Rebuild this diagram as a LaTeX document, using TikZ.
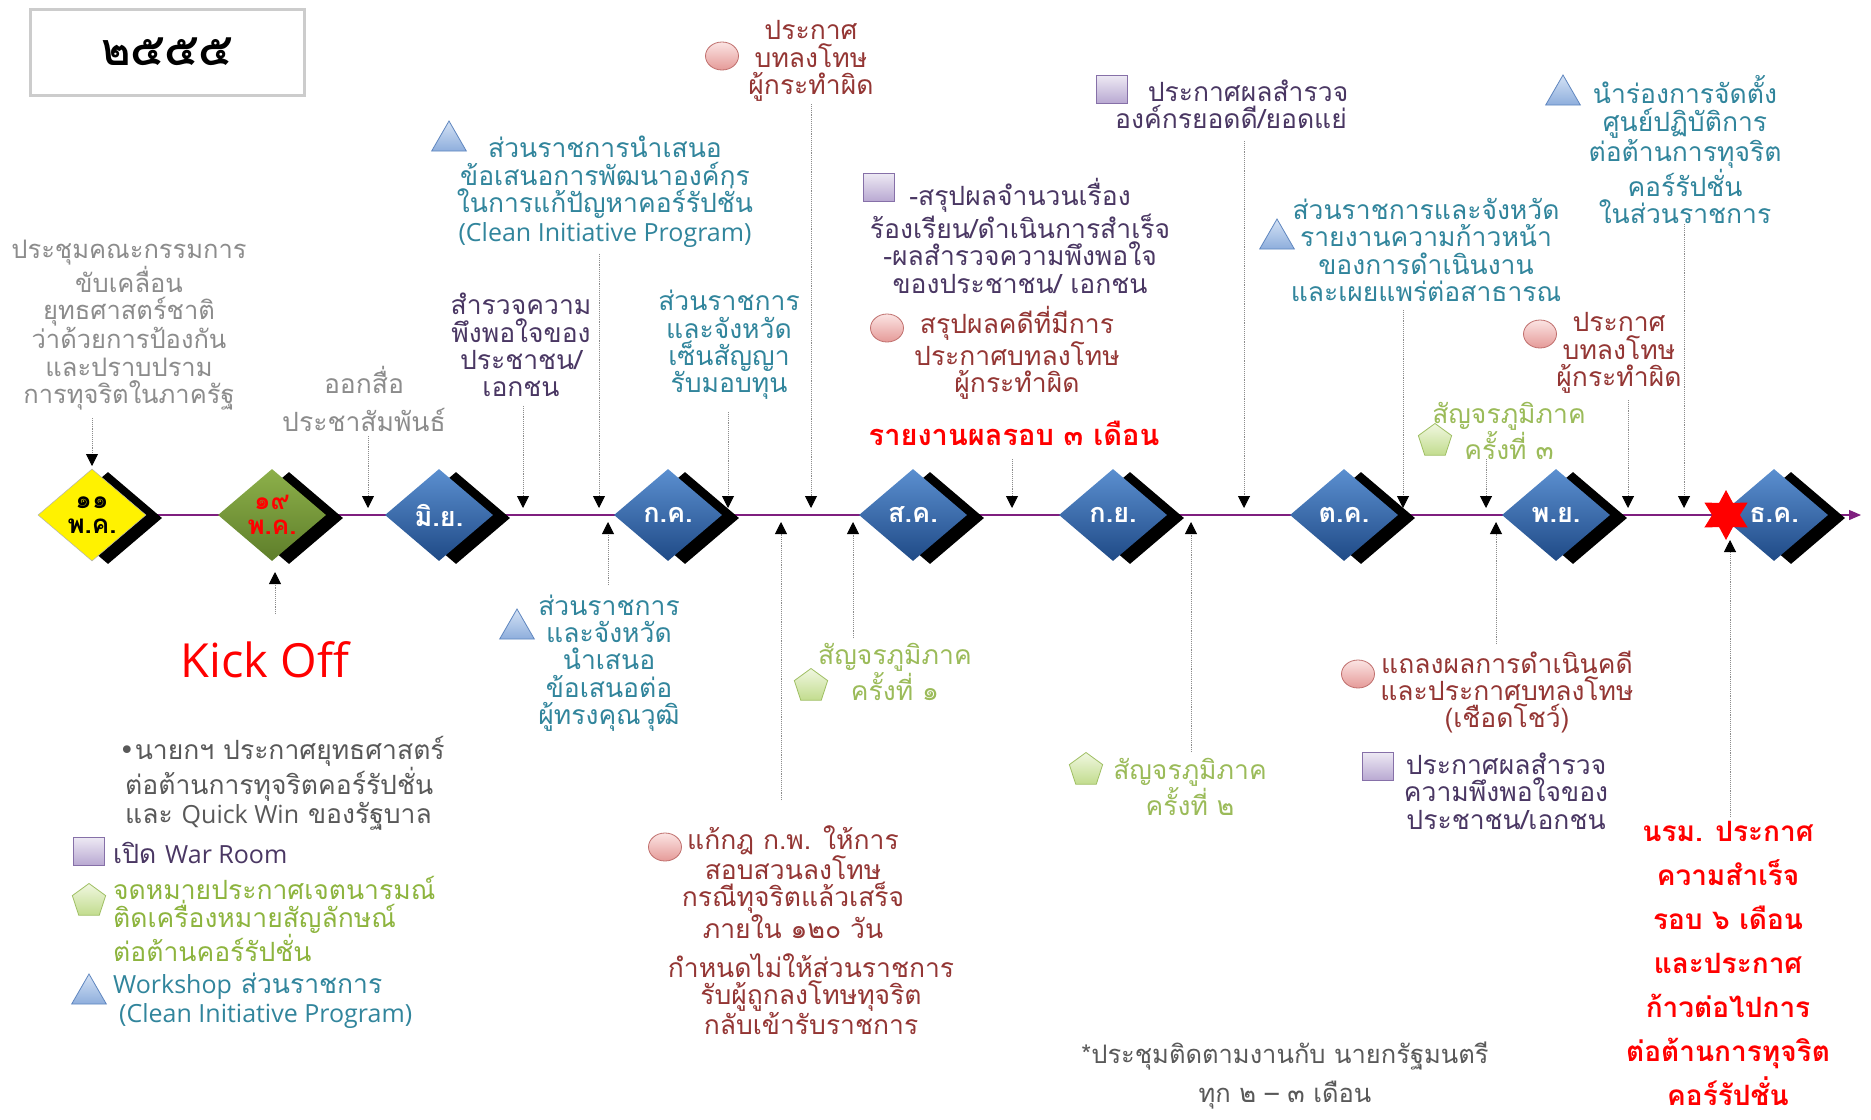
\documentclass[tikz,border=0pt]{standalone}
\usepackage{fontspec}
\setmainfont[Script=Thai]{Loma}
\newfontfamily\symfnt{DejaVu Sans}
\newfontfamily\latf{Open Sans}
\usetikzlibrary{shapes.geometric,arrows.meta}
\definecolor{cTeal}{HTML}{31859C}
\definecolor{cDRed}{HTML}{943634}
\definecolor{cPurp}{HTML}{4A3763}
\definecolor{cOlive}{HTML}{9BBB59}
\definecolor{cLeg}{HTML}{8DB43E}
\definecolor{cGrayT}{HTML}{8C8C8C}
\definecolor{cDGray}{HTML}{595959}
\definecolor{cAxis}{HTML}{7F1F7F}
\definecolor{cBlueL}{HTML}{5B8FD0}
\definecolor{cBlueD}{HTML}{1F4A86}
\definecolor{cGreenL}{HTML}{8DB04A}
\definecolor{cGreenD}{HTML}{5E7E2A}
\definecolor{cRed}{HTML}{FF0000}
\definecolor{cCirL}{HTML}{FBE4E3}
\definecolor{cCirD}{HTML}{E59A98}
\definecolor{cCirE}{HTML}{C0706E}
\definecolor{cTriL}{HTML}{D4E2F5}
\definecolor{cTriD}{HTML}{8EAEDC}
\definecolor{cTriE}{HTML}{5F86BF}
\definecolor{cSqL}{HTML}{EEEAF4}
\definecolor{cSqD}{HTML}{B9A9D2}
\definecolor{cSqE}{HTML}{8670A8}
\definecolor{cPeL}{HTML}{F0F7E0}
\definecolor{cPeD}{HTML}{C2DC8E}
\definecolor{cPeE}{HTML}{9FBF63}
\begin{document}
\begin{tikzpicture}[x=1pt,y=-1pt,
  lbl/.style={align=center, inner sep=0pt, font=\fontsize{26.5}{27.4}\selectfont},
  diam/.style={shape=diamond, minimum width=108pt, minimum height=92pt, inner sep=0pt, draw=none},
  dshadow/.style={diam, fill=black},
  bluediam/.style={diam, top color=cBlueL, bottom color=cBlueD, text=white, font=\bfseries\fontsize{27}{28}\selectfont},
  conn/.style={draw=cGrayT, densely dotted, line width=0.9pt, -{Triangle[width=12pt,length=12pt,color=black]}},
  mcirc/.style={ellipse, minimum width=33pt, minimum height=28pt, inner sep=0pt, top color=cCirL, bottom color=cCirD, draw=cCirE, line width=0.8pt},
  mtri/.style={regular polygon, regular polygon sides=3, minimum size=40pt, inner sep=0pt, top color=cTriL, bottom color=cTriD, draw=cTriE, line width=0.8pt},
  msq/.style={rectangle, minimum width=31pt, minimum height=28pt, inner sep=0pt, top color=cSqL, bottom color=cSqD, draw=cSqE, line width=0.8pt},
  mpent/.style={regular polygon, regular polygon sides=5, minimum size=35pt, inner sep=0pt, top color=cPeL, bottom color=cPeD, draw=cPeE, line width=0.8pt}
]
\useasboundingbox (0,0) rectangle (1871,1119);
\fill[white] (0,0) rectangle (1871,1119);

% title
\node[draw=gray!40, line width=3pt, minimum width=274pt, minimum height=86pt, inner sep=0pt, font=\bfseries\fontsize{45}{48}\selectfont] (title) at (167,52) {๒๕๕๕};

% axis
\coordinate (axstart) at (92,515);
\coordinate (axend) at (1861,515);
\draw[cAxis, line width=1.3pt, -{Triangle[width=10pt,length=12pt]}] (axstart) -- (axend);

% diamonds
\node[dshadow] (d1s) at (108,518) {};
\node[diam, fill=yellow, draw=gray!60, line width=0.5pt, text=black, align=center, font=\bfseries\fontsize{26}{25}\selectfont] (d1) at (92,515) {๑๑\\พ.ค.};
\node[dshadow] (d2s) at (289,518) {};
\node[diam, top color=cGreenL, bottom color=cGreenD, text=cRed, align=center, font=\bfseries\fontsize{26}{25}\selectfont] (d2) at (272,515) {๑๙\\พ.ค.};
\node[dshadow] (d3s) at (456,518) {};
\node[bluediam] (d3) at (439,515) {มิ.ย.};
\node[dshadow] (d4s) at (685,518) {};
\node[bluediam] (d4) at (668,515) {ก.ค.};
\node[dshadow] (d5s) at (930,518) {};
\node[bluediam] (d5) at (913,515) {ส.ค.};
\node[dshadow] (d6s) at (1130,518) {};
\node[bluediam] (d6) at (1113,515) {ก.ย.};
\node[dshadow] (d7s) at (1361,518) {};
\node[bluediam] (d7) at (1344,515) {ต.ค.};
\node[dshadow] (d8s) at (1573,518) {};
\node[bluediam] (d8) at (1556,515) {พ.ย.};
\node[dshadow] (d9s) at (1791,518) {};
\node[bluediam] (d9) at (1774,515) {ธ.ค.};
\node[star, star points=6, star point ratio=1.8, minimum size=50pt, inner sep=0pt, fill=red] (star) at (1726,515) {};

% top labels
\node[lbl, text=cDRed] (tPun) at (811,61) {ประกาศ\\บทลงโทษ\\ผู้กระทำผิด};
\node[mcirc] (mPun) at (722,56) {};
\node[lbl, text=cTeal] (tCIP) at (605,192) {ส่วนราชการนำเสนอ\\ข้อเสนอการพัฒนาองค์กร\\ในการแก้ปัญหาคอร์รัปชั่น\\[2pt]{\latf\fontsize{25}{26}\selectfont(Clean Initiative Program)}};
\node[mtri] (mCIP) at (449,141) {};
\node[lbl, text=cGrayT, font=\fontsize{25.5}{27.4}\selectfont] (tMeet) at (129,325) {ประชุมคณะกรรมการ\\ขับเคลื่อน\\ยุทธศาสตร์ชาติ\\ว่าด้วยการป้องกัน\\และปราบปราม\\การทุจริตในภาครัฐ};
\node[lbl, text=cGrayT, font=\fontsize{26.5}{38}\selectfont] (tPR) at (364,399) {ออกสื่อ\\ประชาสัมพันธ์};
\node[lbl, text=cPurp] (tSurv) at (521,345) {สำรวจความ\\พึงพอใจของ\\ประชาชน/\\เอกชน};
\node[lbl, text=cTeal] (tSign) at (729,345) {ส่วนราชการ\\และจังหวัด\\เซ็นสัญญา\\รับมอบทุน};
\node[lbl, text=cPurp] (tSum) at (1020,236) {-สรุปผลจำนวนเรื่อง\\ร้องเรียน/ดำเนินการสำเร็จ\\-ผลสำรวจความพึงพอใจ\\ของประชาชน/ เอกชน};
\node[msq] (mSum) at (879,187) {};
\node[lbl, text=cDRed] (tCase) at (1017,353) {สรุปผลคดีที่มีการ\\ประกาศบทลงโทษ\\ผู้กระทำผิด};
\node[mcirc] (mCase) at (887,328) {};
\node[lbl, text=cRed, font=\bfseries\fontsize{29}{30}\selectfont] (t3m) at (1014,433) {รายงานผลรอบ ๓ เดือน};
\node[lbl, text=cPurp] (tBest) at (1231,104) {\hspace*{34pt}ประกาศผลสำรวจ\\องค์กรยอดดี/ยอดแย่};
\node[msq] (mBest) at (1112,89) {};
\node[lbl, text=cTeal] (tProg) at (1426,250) {ส่วนราชการและจังหวัด\\รายงานความก้าวหน้า\\ของการดำเนินงาน\\และเผยแพร่ต่อสาธารณ};
\node[mtri] (mProg) at (1277,239) {};
\node[lbl, text=cTeal] (tPilot) at (1685,150) {นำร่องการจัดตั้ง\\ศูนย์ปฏิบัติการ\\ต่อต้านการทุจริต\\คอร์รัปชั่น\\ในส่วนราชการ};
\node[mtri] (mPilot) at (1563,95) {};
\node[lbl, text=cDRed] (tPun2) at (1619,353) {ประกาศ\\บทลงโทษ\\ผู้กระทำผิด};
\node[mcirc] (mPun2) at (1540,334) {};
\node[lbl, text=cOlive] (tTour3) at (1509,431) {สัญจรภูมิภาค\\ครั้งที่ ๓};
\node[mpent] (mTour3) at (1435,441) {};

% bottom labels
\node[lbl, text=cRed, font=\latf\fontsize{47}{49}\selectfont] (tKick) at (265,660) {Kick Off};
\node[lbl, text=cTeal] (tExp) at (609,663) {ส่วนราชการ\\และจังหวัด\\นำเสนอ\\ข้อเสนอต่อ\\ผู้ทรงคุณวุฒิ};
\node[mtri] (mExp) at (517,629) {};
\node[lbl, text=cOlive] (tTour1) at (895,672) {สัญจรภูมิภาค\\ครั้งที่ ๑};
\node[mpent] (mTour1) at (811,686) {};
\node[lbl, text=cDRed] (tRule) at (793,882) {แก้กฎ ก.พ. ให้การ\\สอบสวนลงโทษ\\กรณีทุจริตแล้วเสร็จ\\ภายใน ๑๒๐ วัน};
\node[mcirc] (mRule) at (665,847) {};
\node[lbl, text=cDRed] (tRule2) at (811,994) {กำหนดไม่ให้ส่วนราชการ\\รับผู้ถูกลงโทษทุจริต\\กลับเข้ารับราชการ};
\node[lbl, text=cOlive] (tTour2) at (1190,787) {สัญจรภูมิภาค\\ครั้งที่ ๒};
\node[mpent] (mTour2) at (1086,770) {};
\node[lbl, text=cDRed] (tShow) at (1507,692) {แถลงผลการดำเนินคดี\\และประกาศบทลงโทษ\\(เชือดโชว์)};
\node[mcirc] (mShow) at (1358,674) {};
\node[lbl, text=cPurp] (tSat) at (1506,791) {ประกาศผลสำรวจ\\ความพึงพอใจของ\\ประชาชน/เอกชน};
\node[msq] (mSat) at (1378,766) {};
\node[lbl, text=cRed, font=\bfseries\fontsize{28}{44}\selectfont] (tPM) at (1728,963) {นรม. ประกาศ\\ความสำเร็จ\\รอบ ๖ เดือน\\และประกาศ\\ก้าวต่อไปการ\\ต่อต้านการทุจริต\\คอร์รัปชั่น};

% legend
\node[lbl, align=left, anchor=west, text=cDGray] (tPMs) at (119,783) {{\symfnt •}นายกฯ ประกาศยุทธศาสตร์\\\hspace*{6pt}ต่อต้านการทุจริตคอร์รัปชั่น\\\hspace*{6pt}และ {\latf\fontsize{25}{26}\selectfont Quick Win} ของรัฐบาล};
\node[msq] (mLeg1) at (89,851) {};
\node[lbl, anchor=west, text=cPurp] (tLeg1) at (113,853) {เปิด {\latf\fontsize{25}{26}\selectfont War Room}};
\node[mpent] (mLeg2) at (89,901) {};
\node[lbl, anchor=west, align=left, text=cLeg] (tLeg2) at (113,919) {จดหมายประกาศเจตนารมณ์\\ติดเครื่องหมายสัญลักษณ์\\ต่อต้านคอร์รัปชั่น};
\node[mtri] (mLeg3) at (89,994) {};
\node[lbl, anchor=west, align=left, text=cTeal] (tLeg3) at (113,1001) {{\latf\fontsize{25}{26}\selectfont Workshop} ส่วนราชการ\\[2pt]\hspace*{6pt}{\latf\fontsize{25}{26}\selectfont(Clean Initiative Program)}};
\node[lbl, text=cDGray, font=\fontsize{25.5}{39}\selectfont] (tFoot) at (1285,1076) {*ประชุมติดตามงานกับ นายกรัฐมนตรี\\ทุก ๒ – ๓ เดือน};

% connector coordinates
\coordinate (s1) at (92,418);   \coordinate (e1) at (92,466);
\coordinate (s2) at (368,436);  \coordinate (e2) at (368,508);
\coordinate (s3) at (523,406);  \coordinate (e3) at (523,508);
\coordinate (s4) at (599,254);  \coordinate (e4) at (599,508);
\coordinate (s5) at (728,412);  \coordinate (e5) at (728,508);
\coordinate (s6) at (811,104);  \coordinate (e6) at (811,508);
\coordinate (s7) at (1012,459); \coordinate (e7) at (1012,508);
\coordinate (s8) at (1244,141); \coordinate (e8) at (1244,508);
\coordinate (s9) at (1403,310); \coordinate (e9) at (1403,508);
\coordinate (s10) at (1486,459);\coordinate (e10) at (1486,508);
\coordinate (s11) at (1628,400);\coordinate (e11) at (1628,508);
\coordinate (s12) at (1684,224);\coordinate (e12) at (1684,508);
\coordinate (u1) at (275,614);  \coordinate (f1) at (275,572);
\coordinate (u2) at (608,585);  \coordinate (f2) at (608,522);
\coordinate (u3) at (853,638);  \coordinate (f3) at (853,522);
\coordinate (u4) at (781,800);  \coordinate (f4) at (781,522);
\coordinate (u5) at (1191,752); \coordinate (f5) at (1191,522);
\coordinate (u6) at (1496,644); \coordinate (f6) at (1496,522);
\coordinate (u7) at (1730,817); \coordinate (f7) at (1730,540);

\foreach \i in {1,...,12} {\draw[conn] (s\i) -- (e\i);}
\foreach \i in {1,...,7} {\draw[conn] (u\i) -- (f\i);}
\end{tikzpicture}
\end{document}
